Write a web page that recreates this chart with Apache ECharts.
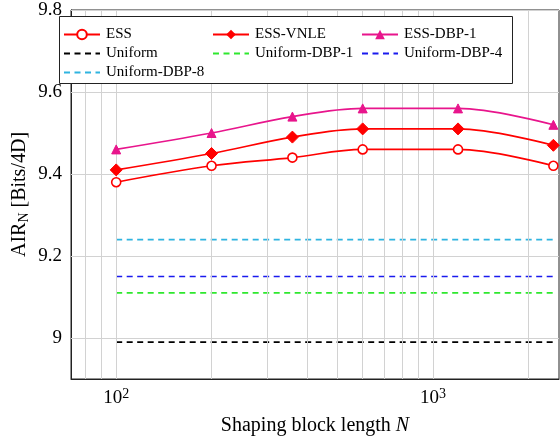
<!DOCTYPE html>
<html>
<head>
<meta charset="utf-8">
<script src="https://cdn.jsdelivr.net/npm/echarts@6/dist/echarts.min.js"></script>
<style>html,body{margin:0;padding:0;background:#fff;}#chart{width:560px;height:437px;}</style>
</head>
<body>
<div id="chart"></div>
<script>
const blockLengths = [100, 200, 360, 600, 1200, 2400];
const essValues = [9.38, 9.42, 9.44, 9.46, 9.46, 9.42];
const essVnleValues = [9.41, 9.45, 9.49, 9.51, 9.51, 9.47];
const essDbp1Values = [9.46, 9.50, 9.54, 9.56, 9.56, 9.52];
const uniformValues = [8.99, 8.99, 8.99, 8.99, 8.99, 8.99];
const uniformDbp1Values = [9.11, 9.11, 9.11, 9.11, 9.11, 9.11];
const uniformDbp4Values = [9.15, 9.15, 9.15, 9.15, 9.15, 9.15];
const uniformDbp8Values = [9.24, 9.24, 9.24, 9.24, 9.24, 9.24];
const xGridTicks = [80, 90, 100, 200, 300, 400, 500, 600, 700, 800, 900, 1000, 2000];
const yTickLabels = [9, 9.2, 9.4, 9.6, 9.8];

const FONT = 'Liberation Serif';
const pair = (xs, ys) => xs.map((x, i) => [x, ys[i]]);

const solid = (name, ys, color, symbol, size, hollow) => ({
  name, type: 'line', smooth: 0.35, data: pair(blockLengths, ys),
  symbol, symbolSize: size,
  lineStyle: { color, width: 1.6 },
  itemStyle: hollow ? { color: '#fff', borderColor: color, borderWidth: 1.6 } : { color, borderColor: color },
  z: 5
});
const dashed = (name, ys, color) => ({
  name, type: 'line', data: pair(blockLengths, ys), symbol: 'none', showSymbol: false,
  lineStyle: { color, width: 1.6, type: [6, 4.5] },
  itemStyle: { color }, z: 4
});

const series = [
  solid('ESS', essValues, '#ff0000', 'circle', 9, true),
  solid('ESS-VNLE', essVnleValues, '#ff0000', 'diamond', 12, false),
  solid('ESS-DBP-1', essDbp1Values, '#e8158c', 'triangle', 9, false),
  dashed('Uniform', uniformValues, '#000000'),
  dashed('Uniform-DBP-1', uniformDbp1Values, '#2ee82e'),
  dashed('Uniform-DBP-4', uniformDbp4Values, '#1a1aee'),
  dashed('Uniform-DBP-8', uniformDbp8Values, '#2fb4e0'),
  {
    name: 'grid', type: 'line', data: [], silent: true,
    markLine: {
      silent: true, symbol: 'none', label: { show: false },
      lineStyle: { color: '#d2d2d2', width: 1, type: 'solid' },
      data: xGridTicks.map(v => ({ xAxis: v })).concat(yTickLabels.map(v => ({ yAxis: v })))
    },
    z: 1
  }
];

const noSym = name => ({ name, itemStyle: { opacity: 0 } });
const legendCommon = {
  orient: 'vertical', itemWidth: 36, itemHeight: 12, itemGap: 4, padding: 0,
  textStyle: { fontFamily: FONT, fontSize: 15, color: '#000', padding: [0, 0, 0, 1] },
  z: 10, top: 27
};

const chart = echarts.init(document.getElementById('chart'), null, { renderer: 'canvas' });
chart.setOption({
  animation: false,
  backgroundColor: '#fff',
  grid: { left: 71, right: 1, top: 10, bottom: 58, outerBoundsMode: 'none', containLabel: false,
    show: true, borderColor: '#222', borderWidth: 1, backgroundColor: 'transparent' },
  xAxis: {
    type: 'log', logBase: 10, min: 72, max: 2500,
    axisLine: { show: true, onZero: false, lineStyle: { color: '#222' } },
    axisTick: { show: false },
    splitLine: { show: false },
    axisLabel: {
      fontFamily: FONT, fontSize: 19, color: '#000', margin: 8,
      showMinLabel: true, showMaxLabel: true,
      formatter: v => {
        const e = Math.log10(v);
        if (Math.abs(e - Math.round(e)) < 1e-6) return '10{sup|' + Math.round(e) + '}';
        return '';
      },
      rich: { sup: { fontFamily: FONT, fontSize: 14, verticalAlign: 'top', padding: [0, 0, 9, 0] } }
    },
    name: 'Shaping block length {i|N}', nameLocation: 'middle', nameGap: 37,
    nameMoveOverlap: false,
    nameTextStyle: { fontFamily: FONT, fontSize: 20, color: '#000',
      rich: { i: { fontFamily: FONT, fontStyle: 'italic', fontSize: 20 } } }
  },
  yAxis: {
    type: 'value', min: 8.9, max: 9.8, interval: 0.1,
    axisLine: { show: true, lineStyle: { color: '#222' } },
    axisTick: { show: false },
    splitLine: { show: false },
    axisLabel: {
      fontFamily: FONT, fontSize: 19, color: '#000', margin: 9,
      formatter: v => (yTickLabels.some(t => Math.abs(t - v) < 1e-6) ? String(Math.round(v * 10) / 10) : '')
    },
    name: 'AIR{sub|N} [Bits/4D]', nameLocation: 'middle', nameGap: 40,
    nameMoveOverlap: false,
    nameTextStyle: { fontFamily: FONT, fontSize: 20, color: '#000',
      rich: { sub: { fontFamily: FONT, fontSize: 14, verticalAlign: 'bottom', padding: [8, 0, 0, 0] } } }
  },
  graphic: [{
    type: 'rect', left: 59, top: 16, z: 9,
    shape: { width: 453, height: 67 },
    style: { fill: '#fff', stroke: '#222', lineWidth: 1 }
  }],
  legend: [
    Object.assign({}, legendCommon, { left: 63, data: ['ESS', noSym('Uniform'), noSym('Uniform-DBP-8')] }),
    Object.assign({}, legendCommon, { left: 212, data: ['ESS-VNLE', noSym('Uniform-DBP-1')] }),
    Object.assign({}, legendCommon, { left: 361, data: ['ESS-DBP-1', noSym('Uniform-DBP-4')] })
  ],
  series
});
</script>
</body>
</html>
